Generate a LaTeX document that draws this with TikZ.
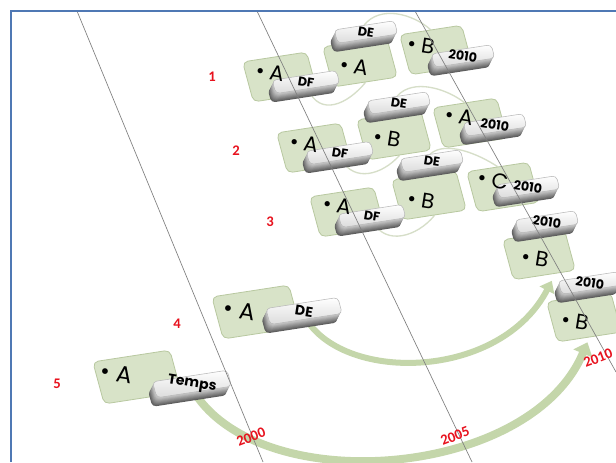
\documentclass[tikz,border=0pt]{standalone}
\usepackage{fontspec}
\setmainfont{Carlito}
\newfontfamily\geo{Poppins}
\usetikzlibrary{calc,arrows.meta}
\definecolor{cardfill}{RGB}{216,227,200}
\definecolor{cardborder}{RGB}{184,200,160}
\definecolor{arcgreen}{RGB}{214,222,200}
\definecolor{arrowgreen}{RGB}{196,214,170}
\definecolor{labelred}{RGB}{232,18,30}
\definecolor{frameblue}{RGB}{79,120,180}
\pgfdeclarelayer{bg}
\pgfsetlayers{bg,main}
\tikzset{
  cardskew/.style={cm={1,0.154,-0.27,1,(0,0)}},
  card/.style={draw=cardborder, fill=cardfill, line width=0.6pt, rounded corners=4pt, inner sep=0pt, transform shape},
  keyface/.style={draw=black!28, line width=0.4pt, top color=white, bottom color=black!14, rounded corners=3pt, inner sep=0pt, transform shape},
  keytxt/.style={font=\geo\bfseries\fontsize{9.5}{10}\selectfont, rotate=-9, inner sep=0pt},
  cardtxt/.style={font=\geo\fontsize{16}{17}\selectfont, rotate=-9, inner sep=0pt},
  bigcardtxt/.style={cardtxt, font=\geo\fontsize{17.5}{18}\selectfont},
  redlbl/.style={font=\bfseries\fontsize{11}{12}\selectfont, text=labelred, inner sep=0pt},
  yearlbl/.style={redlbl, rotate=21},
  thinarc/.style={draw=arcgreen, line width=1pt},
  arrowfour/.style={draw=arrowgreen, line width=4.5pt, -{Triangle[width=12pt,length=8pt]}, shorten >=6pt},
  arrowfive/.style={draw=arrowgreen, line width=6pt, -{Triangle[width=15pt,length=9pt]}, shorten >=4pt},
  timeline/.style={draw=black!50, line width=0.5pt},
  frameline/.style={draw=frameblue, line width=1.2pt}
}
\newcommand\mycard[5]{\begin{scope}[shift={(#2,#3)},cardskew]
  \node[card,minimum width=#4pt,minimum height=#5pt] (#1) at (0,0) {};
\end{scope}}
\newcommand\mykey[6]{\begin{scope}[shift={(#2,#3)},cardskew]
  \foreach \k in {9,8,...,1}{\pgfmathtruncatemacro\kv{18+5*\k}
    \fill[black!\kv,rounded corners=3pt] ({-0.5*#4pt-0.554*\k pt},{-0.5*#5pt-0.664*\k pt}) rectangle ({0.5*#4pt-0.554*\k pt},{0.5*#5pt-0.664*\k pt});}
  \node[keyface,minimum width=#4pt,minimum height=#5pt] (#1) at (0,0) {};
\end{scope}
\node[keytxt] (#1t) at (#1.center) {#6};}

\begin{document}
\begin{tikzpicture}[x=0.75pt,y=-0.75pt]
\useasboundingbox (0,0) rectangle (616,462);
\begin{pgfonlayer}{bg}
\fill[white] (0,0) rectangle (616,462);
\end{pgfonlayer}

% cards
\mycard{c1a}{280}{77}{48}{30}
\mycard{c1b}{360}{62}{48}{30}
\mycard{c1c}{436}{50}{46.5}{30}
\mycard{c2a}{314}{148}{48}{30}
\mycard{c2b}{394}{135}{48}{30}
\mycard{c2c}{470}{123}{48}{30}
\mycard{c3a}{347}{212}{48}{30}
\mycard{c3b}{429}{195}{48}{30}
\mycard{c3c}{503}{187}{46.5}{30}
\mycard{c4b}{539}{255}{46.5}{30}
\mycard{c5b}{584}{317}{48}{30}
\mycard{c4a}{256}{312}{57.75}{31.5}
\mycard{c5a}{137}{377}{57.75}{31.5}

% keys
\mykey{k1a}{306}{82}{48}{10}{DF}
\mykey{k1b}{366}{32}{45}{10}{DE}
\mykey{k1c}{463}{56}{45}{10}{2010}
\mykey{k2a}{340}{153}{48}{10}{DF}
\mykey{k2b}{399}{103}{45}{10}{DE}
\mykey{k2c}{495}{125}{45}{10}{2010}
\mykey{k3a}{372}{216}{48}{10}{DF}
\mykey{k3b}{432}{161}{45}{10}{DE}
\mykey{k3c}{528}{187}{45}{10}{2010}
\mykey{k4b}{547}{222}{45}{10}{2010}
\mykey{k5b}{590}{283}{45}{10}{2010}
\mykey{k4a}{304}{311}{54}{12}{\fontsize{10.5}{11}\selectfont DE}
\mykey{k5a}{192}{384}{56}{12}{\fontsize{10.5}{11}\selectfont Temps}

% card texts
\node[cardtxt] (t1a) at (270,72) {\textbullet\hspace{4pt}A};
\node[cardtxt] (t1b) at (354,66) {\textbullet\hspace{4pt}A};
\node[cardtxt] (t1c) at (421,45) {\textbullet\hspace{4pt}B};
\node[cardtxt] (t2a) at (304,143) {\textbullet\hspace{4pt}A};
\node[cardtxt] (t2b) at (387,138) {\textbullet\hspace{4pt}B};
\node[cardtxt] (t2c) at (459,116) {\textbullet\hspace{4pt}A};
\node[cardtxt] (t3a) at (337,205) {\textbullet\hspace{4pt}A};
\node[cardtxt] (t3b) at (421,200) {\textbullet\hspace{4pt}B};
\node[cardtxt] (t3c) at (493,180) {\textbullet\hspace{4pt}C};
\node[cardtxt] (t4b) at (535,258) {\textbullet\hspace{4pt}B};
\node[cardtxt] (t5b) at (575,321) {\textbullet\hspace{4pt}B};
\node[bigcardtxt] (t4a) at (240,310) {\textbullet\hspace{5pt}A};
\node[bigcardtxt] (t5a) at (117,373) {\textbullet\hspace{5pt}A};

% connectors behind everything
\begin{pgfonlayer}{bg}
\draw[thinarc] (k1a.south) .. controls +(12,28) and +(-18,22) .. (c1b.south);
\draw[thinarc] (k1b.north) .. controls +(16,-20) and +(-18,-16) .. (c1c.north);
\draw[thinarc] (k2a.south) .. controls +(12,22) and +(-18,20) .. (c2b.south);
\draw[thinarc] (k2b.north) .. controls +(16,-18) and +(-18,-14) .. (c2c.north);
\draw[thinarc] (k3a.south) .. controls +(12,22) and +(-18,22) .. (c3b.south);
\draw[thinarc] (k3b.north) .. controls +(16,-14) and +(-18,-12) .. (c3c.north);
\draw[arrowfour] (k4a.south) .. controls +(40,64) and +(-55,106) .. ($(c4b.south)!0.35!(c4b.south east)$);
\draw[arrowfive] (k5a.south) .. controls +(68,107) and +(-59,141) .. (c5b.south);
\end{pgfonlayer}

% time lines
\coordinate (l1a) at (77,11);  \coordinate (l1b) at (263,462);
\coordinate (l2a) at (257,11); \coordinate (l2b) at (472,462);
\coordinate (l3a) at (415,11); \coordinate (l3b) at (616,372);
\draw[timeline] (l1a) -- (l1b);
\draw[timeline] (l2a) -- (l2b);
\draw[timeline] (l3a) -- (l3b);

% frame
\coordinate (fa) at (11,462); \coordinate (fb) at (11,11); \coordinate (fc) at (616,11);
\draw[frameline] (fa) -- (fb) -- (fc);

% labels
\node[redlbl] (n1) at (212,77) {1};
\node[redlbl] (n2) at (236,151) {2};
\node[redlbl] (n3) at (270,222) {3};
\node[redlbl] (n4) at (177,324) {4};
\node[redlbl] (n5) at (57,384) {5};
\node[yearlbl] (y2000) at (251,437) {2000};
\node[yearlbl] (y2005) at (455,436) {2005};
\node[yearlbl] (y2010) at (598,358) {2010};
\end{tikzpicture}
\end{document}
